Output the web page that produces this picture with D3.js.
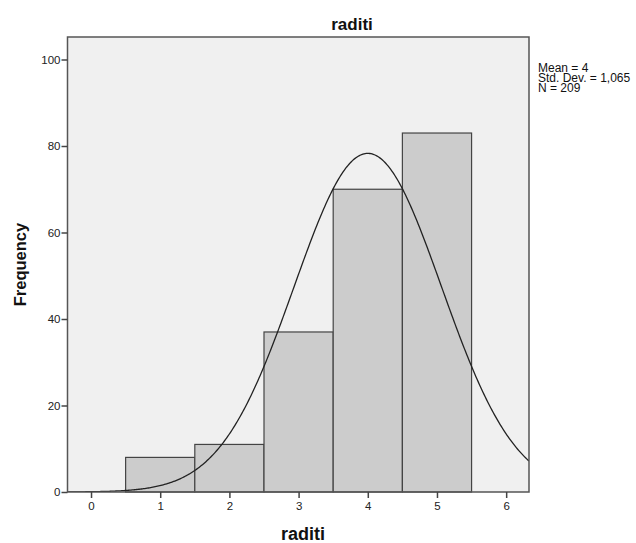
<!DOCTYPE html>
<html><head><meta charset="utf-8">
<script src="https://cdn.jsdelivr.net/npm/d3@7"></script>
<style>
body{margin:0;background:#fff;}
svg text{font-family:"Liberation Sans",Arial,sans-serif;}
</style>
</head><body>
<svg id="c" width="636" height="543"></svg>
<script>
const binStarts = [0.5, 1.5, 2.5, 3.5, 4.5];
const binEnds   = [1.5, 2.5, 3.5, 4.5, 5.5];
const frequencies = [8, 11, 37, 70, 83];
const xTicks = [0, 1, 2, 3, 4, 5, 6];
const yTicks = [0, 20, 40, 60, 80, 100];
const statLines = ["Mean = 4", "Std. Dev. = 1,065", "N = 209"];
const mean = 4, sd = 1.065, n = 209, binWidth = 1;

const L = 67.5, R = 529, T = 37, B = 492;
const svg = d3.select("#c");
const x = d3.scaleLinear().domain([-0.34, 6.33]).range([L, R]);
const y = d3.scaleLinear().domain([0, 100]).range([B, 59.5]);

svg.append("rect").attr("x", L).attr("y", T).attr("width", R - L).attr("height", B - T)
  .attr("fill", "#f0f0f0");

svg.append("defs").append("clipPath").attr("id", "clip")
  .append("rect").attr("x", L).attr("y", T).attr("width", R - L).attr("height", B - T);

const bars = frequencies.map((f, i) => ({s: binStarts[i], e: binEnds[i], f}));
svg.append("g").selectAll("rect").data(bars).join("rect")
  .attr("x", d => x(d.s)).attr("y", d => y(d.f))
  .attr("width", d => x(d.e) - x(d.s)).attr("height", d => y(0) - y(d.f))
  .attr("fill", "#cccccc").attr("stroke", "#444").attr("stroke-width", 1.2);

// fitted normal curve from the stated statistics
const pts = d3.range(0, 401).map(i => {
  const v = -0.34 + (6.33 + 0.34) * i / 400;
  const dens = n * binWidth / (sd * Math.sqrt(2 * Math.PI)) * Math.exp(-0.5 * ((v - mean) / sd) ** 2);
  return [v, dens];
});
svg.append("path").datum(pts).attr("clip-path", "url(#clip)")
  .attr("d", d3.line().x(d => x(d[0])).y(d => y(d[1])))
  .attr("fill", "none").attr("stroke", "#222").attr("stroke-width", 1.3);

svg.append("rect").attr("x", L).attr("y", T).attr("width", R - L).attr("height", B - T)
  .attr("fill", "none").attr("stroke", "#555").attr("stroke-width", 1.5);

// axes
const xa = svg.append("g").attr("transform", `translate(0,${B})`)
  .call(d3.axisBottom(x).tickValues(xTicks).tickSize(6).tickPadding(4).tickFormat(d3.format("d")));
const ya = svg.append("g").attr("transform", `translate(${L},0)`)
  .call(d3.axisLeft(y).tickValues(yTicks).tickSize(6).tickPadding(1).tickFormat(d3.format("d")));
[xa, ya].forEach(g => {
  g.select(".domain").remove();
  g.selectAll(".tick line").attr("stroke", "#444").attr("stroke-width", 1.5);
  g.selectAll(".tick text").attr("font-size", 11.5).attr("fill", "#222")
    .attr("font-family", "'Liberation Sans',Arial,sans-serif");
});

svg.append("text").attr("x", 352).attr("y", 29.5).attr("text-anchor", "middle")
  .attr("font-size", 17).attr("font-weight", "bold").attr("fill", "#111").text("raditi");
svg.append("text").attr("x", 303).attr("y", 540).attr("text-anchor", "middle")
  .attr("font-size", 18).attr("font-weight", "bold").attr("fill", "#111").text("raditi");
svg.append("text").attr("transform", "translate(25.5,264.5) rotate(-90)").attr("text-anchor", "middle")
  .attr("font-size", 16.5).attr("font-weight", "bold").attr("fill", "#111").text("Frequency");

svg.append("g").selectAll("text").data(statLines).join("text")
  .attr("x", 538).attr("y", (d, i) => 72 + i * 10.2)
  .attr("font-size", 12).attr("fill", "#111").text(d => d);
</script>
</body></html>
